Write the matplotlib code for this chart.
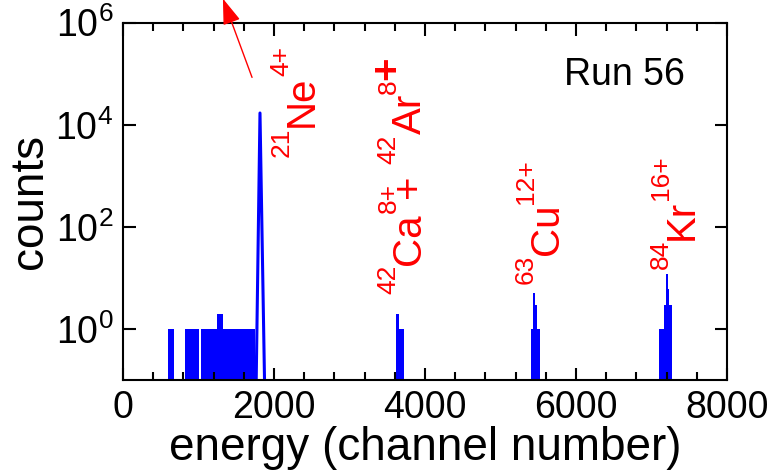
import matplotlib
matplotlib.use("Agg")
import matplotlib.pyplot as plt

plt.rcParams['font.family'] = ['Liberation Sans', 'DejaVu Sans']
plt.rcParams['mathtext.fontset'] = 'custom'
plt.rcParams['mathtext.rm'] = 'Liberation Sans'
plt.rcParams['mathtext.it'] = 'Liberation Sans:italic'
plt.rcParams['mathtext.bf'] = 'Liberation Sans:bold'
plt.rcParams['mathtext.default'] = 'regular'

# spectrum blocks: start channel, end channel, counts
bin_start = [600, 821, 1033, 1240, 1320,
             3616, 3660,
             5400, 5435, 5460, 5490,
             7100, 7160, 7190, 7215, 7235]
bin_end = [675, 1007, 1240, 1320, 1748,
           3660, 3722,
           5435, 5460, 5490, 5525,
           7160, 7190, 7215, 7235, 7265]
bin_counts = [1, 1, 1, 2, 1,
              2, 1,
              1, 5, 3, 1,
              1, 3, 12, 6, 3]

# 21Ne peak (drawn as a line)
ne_channel = [1765, 1815, 1875]
ne_counts = [0.1, 17000, 0.1]

# peak labels: pieces of (text, kind) with kind 'm' main, 's' superscript,
# 'b' big raised sign
labels = [
    [("21", 's'), ("Ne", 'm'), ("4+", 's')],
    [("42", 's'), ("Ca", 'm'), ("8+", 's'), ("+", 'm'), ("42", 's'),
     ("Ar", 'm'), ("8", 's'), ("+", 'b')],
    [("63", 's'), ("Cu", 'm'), ("12+", 's')],
    [("84", 's'), ("Kr", 'm'), ("16+", 's')],
]
label_x = [2625, 4046, 5861, 7649]   # right edge of the label box
label_y = [2355, 4.8, 7.5, 14.8]     # lower end of the label

MAIN = 29
SUP = 19
RAISE = 18
SUP_FONT = ['Liberation Sans Narrow', 'Liberation Sans', 'DejaVu Sans']


def shift(kind):
    # right edge of a piece's box relative to the main text's box, points
    if kind == 'm':
        return 0.0
    if kind == 's':
        return -RAISE + 0.212 * (SUP - MAIN)
    return -RAISE + 2


def chem_label(ax, x, y, pieces):
    prev = None
    prev_kind = 'm'
    for i, (txt, kind) in enumerate(pieces):
        fs = SUP if kind == 's' else MAIN
        fam = SUP_FONT if kind == 's' else plt.rcParams['font.family']
        fw = 'bold' if kind == 'b' else 'normal'
        gap = 0
        if i > 0 and prev_kind == 's' and kind == 'm' and txt == "+":
            gap = -11
        if i > 0 and prev_kind == 'm' and txt == "42":
            gap = 8
        if prev is None:
            prev = ax.annotate(txt, xy=(x, y), xytext=(shift(kind), 0),
                               textcoords='offset points', color='red',
                               rotation=90, fontsize=fs, fontweight=fw,
                               family=fam, ha='right', va='bottom')
        else:
            prev = ax.annotate(txt, xy=(1, 1), xycoords=prev,
                               xytext=(shift(kind) - shift(prev_kind), gap),
                               textcoords='offset points', color='red',
                               rotation=90, fontsize=fs, fontweight=fw,
                               family=fam, ha='right', va='bottom')
        prev_kind = kind


fig = plt.figure(figsize=(7.78, 4.72), dpi=100)
ax = fig.add_axes([0.158, 0.195, 0.7765, 0.757])
ax.set_yscale('log')

widths = [e - s for s, e in zip(bin_start, bin_end)]
ax.bar(bin_start, bin_counts, width=widths, align='edge', color='blue',
       linewidth=0)
ax.plot(ne_channel, ne_counts, color='blue', lw=2.2)

ax.set_xlim(0, 8000)
ax.set_ylim(0.1, 1e6)
ax.set_xticks([0, 2000, 4000, 6000, 8000])
ax.set_xticks(range(0, 8001, 400), minor=True)
ax.set_yticks([1, 1e2, 1e4, 1e6])
ax.set_yticklabels([r"$10^0$", r"$10^2$", r"$10^4$", r"$10^6$"])
ax.yaxis.set_minor_locator(matplotlib.ticker.NullLocator())

for s in ax.spines.values():
    s.set_linewidth(1.5)
ax.tick_params(which='both', direction='in', top=True, right=True,
               width=1.5, labelsize=27)
ax.tick_params(which='major', length=9, pad=7)
ax.tick_params(which='minor', length=6)

ax.set_xlabel("energy (channel number)", fontsize=33, labelpad=0)
ax.set_ylabel("counts", fontsize=33, labelpad=2)

for pieces, x, y in zip(labels, label_x, label_y):
    chem_label(ax, x, y, pieces)

ax.text(0.93, 0.905, "Run 56", transform=ax.transAxes, fontsize=27,
        ha='right', va='top')

# arrow pointing out of the frame and a cut-off caption above
ax.annotate('', xy=(0.2853, 1.0085), xytext=(0.3252, 0.8305),
            xycoords='figure fraction', textcoords='figure fraction',
            arrowprops=dict(arrowstyle='-|>,head_length=1.6,head_width=0.55',
                            color='red', lw=1, mutation_scale=10),
            annotation_clip=False)
fig.text(0.363, 1.02, "g", fontsize=27, fontweight='bold', va='baseline')

fig.savefig("out.png", dpi=100)
